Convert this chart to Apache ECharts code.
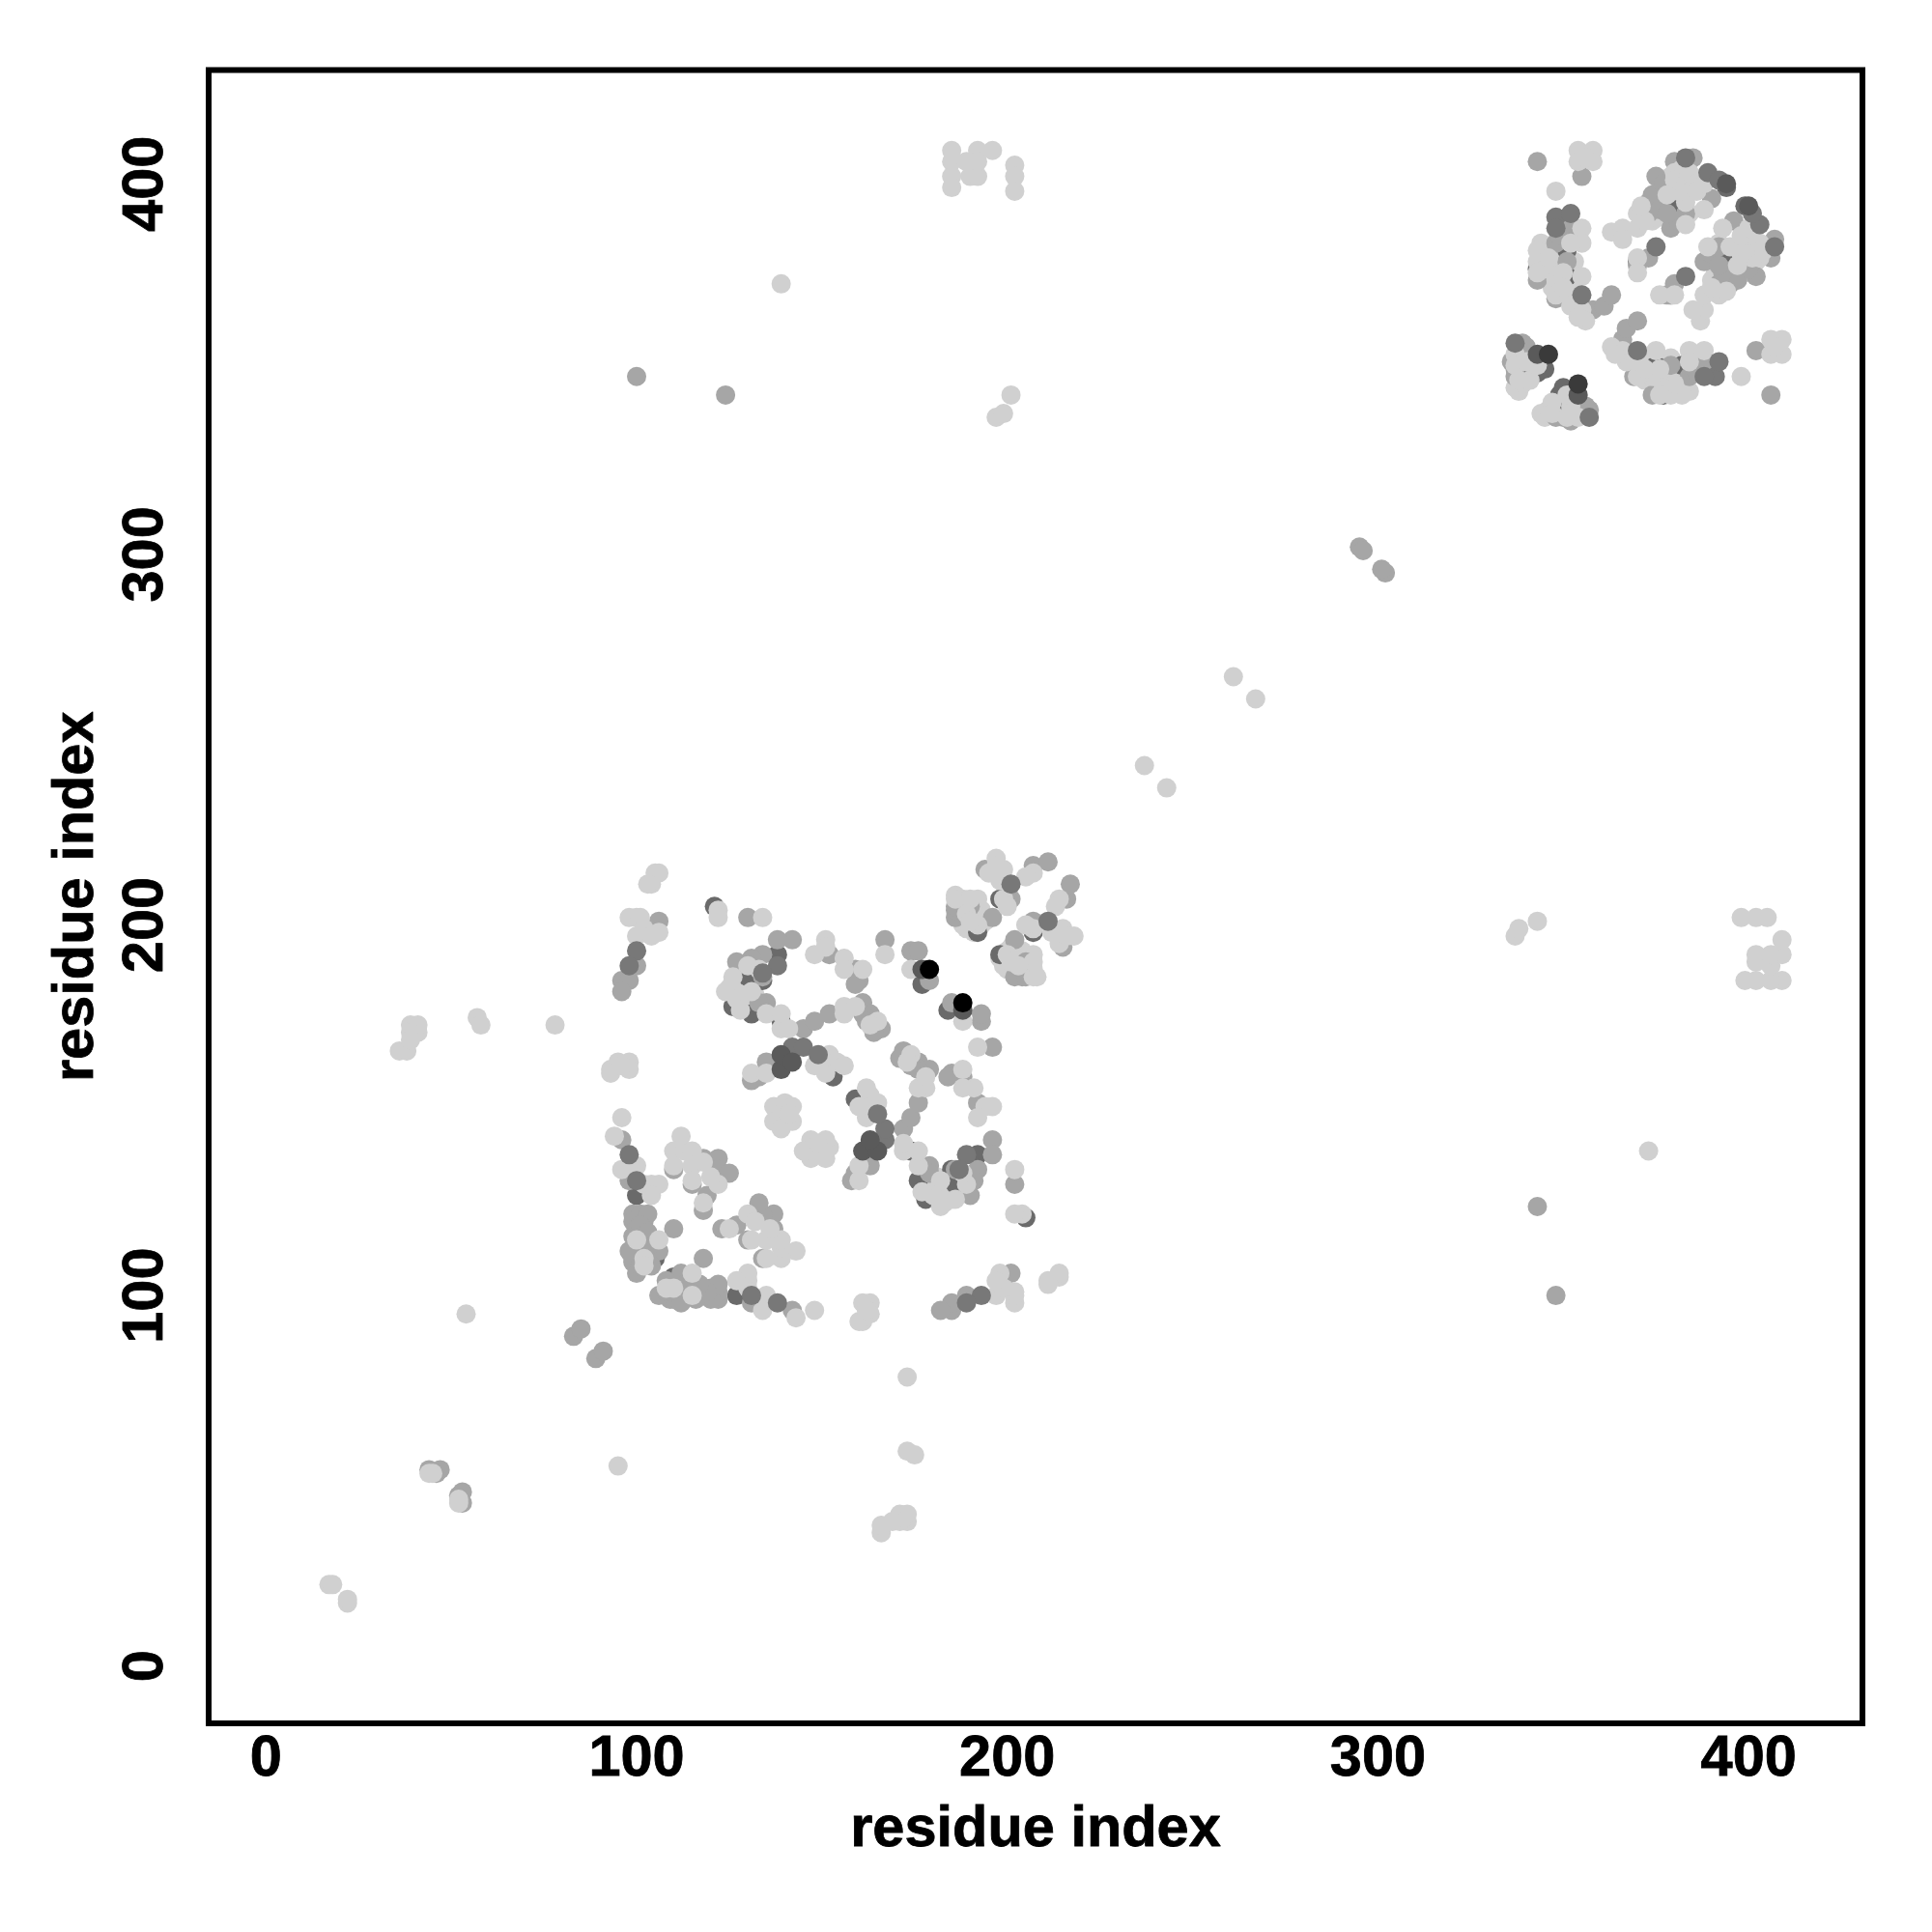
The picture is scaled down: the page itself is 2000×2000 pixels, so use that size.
<!DOCTYPE html>
<html><head><meta charset="utf-8">
<style>html,body{margin:0;padding:0;background:#fff}#c{width:2000px;height:2000px}</style>
<script src="https://cdn.jsdelivr.net/npm/echarts@6/dist/echarts.min.js"></script>
</head><body><div id="c"></div>
<script>
const tickValues=[0,100,200,300,400];
const axisTitle="residue index";
// contact pairs [i,j]; a contact map holds both (i,j) and (j,i)
const lightUnder=[[346,378],[349,381],[376,399],[379,402],[382,398],[130,180],[128,183],[126,185],[132,181],[125,183],[188,205],[187,203],[191,204],[193,200],[188,200],[191,198],[194,201],[191,203],[193,204],[189,199],[188,207],[186,208],[192,207],[345,382],[344,384],[347,378],[349,374],[347,372],[353,374],[353,379],[352,376],[376,397],[380,398],[384,392],[384,398],[376,391],[374,390],[372,391],[340,349],[338,344],[337,345]];
const darkUnder=[[121,205],[130,186],[126,178],[131,176],[139,174],[134,185],[177,184],[153,159],[138,192],[98,135],[100,127],[105,110],[100,111],[192,198],[198,207],[351,382],[343,377],[351,375],[351,370],[370,379],[379,399],[380,396],[394,399],[341,350],[343,349],[345,350],[379,393]];
const mid=[[130,202],[142,196],[138,196],[134,192],[100,189],[96,185],[98,185],[96,182],[106,201],[103,198],[135,179],[145,172],[148,174],[152,176],[152,192],[159,188],[160,185],[159,184],[161,179],[163,176],[161,176],[166,172],[164,171],[162,174],[167,196],[174,193],[176,193],[179,185],[135,163],[133,159],[131,158],[110,118],[96,142],[98,135],[98,131],[118,137],[122,137],[122,134],[125,133],[119,127],[118,123],[110,134],[115,130],[99,122],[101,122],[99,120],[102,120],[100,118],[101,115],[106,112],[99,110],[99,109],[100,106],[102,118],[103,122],[186,202],[196,202],[194,215],[201,207],[207,216],[211,217],[186,204],[343,406],[355,402],[352,388],[348,384],[351,379],[343,374],[358,366],[361,367],[363,370],[373,392],[373,395],[374,397],[375,402],[370,378],[373,380],[380,406],[385,407],[383,392],[379,388],[381,390],[390,396],[339,357],[337,350],[340,356],[348,369],[124,343],[100,348],[83,89],[85,91],[44,53],[46,52],[47,53],[295,302],[296,301],[355,367],[377,400],[376,393],[378,392],[344,380],[344,378],[99,116],[101,119],[103,117],[100,113],[103,113],[98,112],[101,108],[104,108],[133,179],[134,186],[127,190],[131,191],[190,205],[186,205],[349,386],[350,389],[337,348],[336,352]];
const light=[[105,214],[104,211],[106,214],[103,211],[98,202],[100,202],[101,202],[100,197],[102,199],[106,198],[104,197],[122,204],[122,202],[134,202],[130,189],[126,186],[133,188],[124,182],[131,182],[127,180],[128,177],[135,176],[139,176],[139,172],[141,172],[156,178],[156,176],[151,196],[151,194],[148,192],[156,191],[156,188],[161,188],[159,178],[165,174],[163,173],[167,192],[174,188],[131,160],[135,160],[148,162],[152,165],[154,163],[156,162],[151,160],[150,164],[137,151],[140,152],[142,151],[142,147],[137,147],[139,145],[141,149],[93,161],[95,163],[98,163],[98,161],[93,160],[96,162],[96,148],[94,143],[100,135],[96,134],[102,130],[104,130],[106,130],[104,127],[112,143],[110,139],[110,135],[113,139],[115,139],[115,135],[115,131],[118,136],[122,130],[120,132],[118,125],[100,115],[106,115],[102,110],[102,108],[186,207],[190,207],[192,200],[189,203],[190,201],[197,218],[195,214],[199,215],[198,212],[197,216],[199,207],[200,205],[207,214],[205,213],[354,409],[358,409],[354,406],[358,406],[356,407],[348,398],[355,388],[355,384],[352,384],[343,382],[343,379],[346,380],[345,377],[343,376],[355,375],[348,374],[350,376],[348,370],[352,370],[350,372],[352,367],[355,366],[356,363],[354,364],[363,387],[366,388],[366,385],[370,388],[370,392],[372,390],[371,394],[370,380],[370,376],[382,404],[380,403],[380,401],[383,400],[383,395],[381,398],[383,389],[384,403],[386,400],[378,397],[388,393],[386,398],[388,400],[337,354],[339,346],[341,347],[338,347],[337,351],[340,352],[343,351],[17,22],[18,22],[54,95],[45,52],[44,52],[78,173],[57,175],[58,173],[36,166],[38,166],[41,171],[39,173],[40,172],[41,173],[39,171],[39,169],[261,267],[237,243],[139,373],[197,337],[199,338],[201,343],[185,409],[185,406],[185,402],[185,399],[190,402],[192,402],[189,406],[192,409],[196,409],[192,406],[202,405],[202,402],[202,398]];
const darkTop=[[100,193],[98,189],[138,189],[134,187],[98,138],[100,131],[142,167],[145,167],[149,165],[201,211],[348,391],[352,392],[348,388],[375,383],[383,407],[389,403],[392,401],[337,357],[355,370]];
const nearBlack=[[139,161],[139,165],[142,163],[177,188],[343,354],[394,400]];
const veryDark=[[346,354]];
const blackPts=[[179,188]];

function bothWays(pairs){
  const out=[];
  pairs.forEach(p=>{out.push([p[0],p[1]]);out.push([p[1],p[0]]);});
  return out;
}
const layers=[
  [lightUnder,'#d0d0d0'],[darkUnder,'#6a6a6a'],[mid,'#a6a6a6'],[light,'#d0d0d0'],
  [darkTop,'#787878'],[nearBlack,'#5a5a5a'],[veryDark,'#3a3a3a'],[blackPts,'#000000']
];
const fontFamily='"Liberation Sans",Arial,sans-serif';
function axis(nameGap,rot,margin,nameRot){
  return {type:'value',min:-15.45,max:430.7,name:axisTitle,nameLocation:'middle',nameGap:nameGap,nameRotate:nameRot,
    nameTextStyle:{fontFamily:fontFamily,fontWeight:'bold',fontSize:59.5,color:'#000',textBorderColor:'#000',textBorderWidth:0.8},
    splitLine:{show:false},axisLine:{show:false},
    axisTick:{show:true,length:8,inside:false,customValues:tickValues,lineStyle:{color:'#000',width:4}},
    axisLabel:{show:true,rotate:rot,margin:margin,customValues:tickValues,fontFamily:fontFamily,fontWeight:'bold',fontSize:59.5,color:'#000',textBorderColor:'#000',textBorderWidth:0.8}};
}
const chart=echarts.init(document.getElementById('c'),null,{renderer:'canvas'});
chart.setOption({
  animation:false,backgroundColor:'#fff',
  grid:{left:216,top:72.5,width:1712,height:1711.5,show:true,borderColor:'#000',borderWidth:6,backgroundColor:'#fff',z:10,containLabel:false},
  xAxis:axis(81,0,8,0),
  yAxis:axis(106,90,34,90),
  series:layers.map((l,i)=>({type:'scatter',data:bothWays(l[0]),symbol:'circle',symbolSize:20,z:20+i,clip:false,
    itemStyle:{color:l[1],opacity:1,borderWidth:0},silent:true}))
});
</script></body></html>
